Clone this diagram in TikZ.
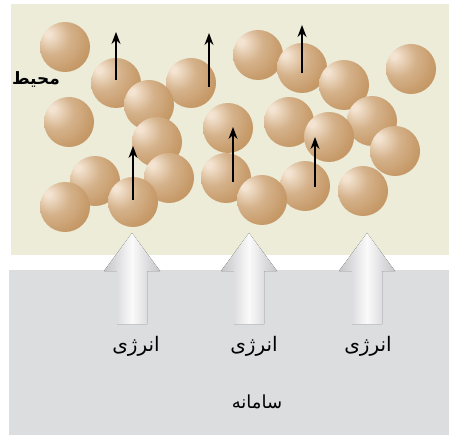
\documentclass[tikz,border=0pt]{standalone}
\usepackage{fontspec}
\newfontfamily\arabicfont[Script=Arabic]{DejaVu Sans}
\TeXXeTstate=1
\usetikzlibrary{arrows.meta}

\definecolor{airbg}{HTML}{EDECD9}
\definecolor{bodybg}{HTML}{DCDDDF}
\definecolor{grainlo}{HTML}{C59866}
\definecolor{grainhi}{HTML}{F3E3D0}
\definecolor{heatedge}{HTML}{C4C4C8}

% tan particle, lit from the upper left
\pgfdeclareradialshading{grainshade}{\pgfpoint{-18bp}{14bp}}{%
  color(0bp)=(grainhi); color(3bp)=(grainhi);
  color(18bp)=(grainlo!65!grainhi); color(34bp)=(grainlo);
  color(72bp)=(grainlo!92!black)}

\begin{document}
\begin{tikzpicture}[x=1pt,y=-1pt]
    \tikzstyle{grain}=[circle,inner sep=0pt,minimum size=50pt,shading=grainshade]
    \tikzstyle{motion}=[draw,line width=1.3pt,-{Stealth[length=12pt,width=9pt]}]
    \tikzstyle{heat}=[left color=heatedge,right color=heatedge,middle color=white!92!heatedge]
    \tikzstyle{word}=[text=black,font=\arabicfont\fontsize{20}{24}\selectfont]

    \useasboundingbox (0,0) rectangle (449,435);
    \fill[airbg] (11,4) rectangle (449,255);
    \fill[bodybg] (9,270) rectangle (449,435);

    % particles, back to front
    \node[grain] (p1) at (65,47) {};
    \node[grain] (p2) at (258,55) {};
    \node[grain] (p3) at (302,68) {};
    \node[grain] (p4) at (411,69) {};
    \node[grain] (p5) at (116,83) {};
    \node[grain] (p6) at (191,83) {};
    \node[grain] (p7) at (344,85) {};
    \node[grain] (p8) at (149,105) {};
    \node[grain] (p9) at (69,122) {};
    \node[grain] (p10) at (289,122) {};
    \node[grain] (p11) at (372,121) {};
    \node[grain] (p12) at (228,128) {};
    \node[grain] (p13) at (329,137) {};
    \node[grain] (p14) at (157,142) {};
    \node[grain] (p15) at (395,151) {};
    \node[grain] (p16) at (226,178) {};
    \node[grain] (p17) at (169,178) {};
    \node[grain] (p18) at (95,181) {};
    \node[grain] (p19) at (305,186) {};
    \node[grain] (p20) at (363,191) {};
    \node[grain] (p21) at (262,200) {};
    \node[grain] (p22) at (133,202) {};
    \node[grain] (p23) at (65,207) {};

    % velocity arrows
    \coordinate (v1a) at (116,80);  \coordinate (v1b) at (116,32);
    \coordinate (v2a) at (209,87);  \coordinate (v2b) at (209,33);
    \coordinate (v3a) at (133,200); \coordinate (v3b) at (133,146);
    \coordinate (v4a) at (302,73);  \coordinate (v4b) at (302,25);
    \coordinate (v5a) at (233,182); \coordinate (v5b) at (233,127);
    \coordinate (v6a) at (315,187); \coordinate (v6b) at (315,137);
    \foreach \i in {1,...,6}
        \path[motion] (v\i a) -- (v\i b);

    % energy flowing up into the surroundings
    \foreach \cx in {132,249,367}
        \fill[heat] (\cx-15,324) -- (\cx-15,271) -- (\cx-28,271) -- (\cx,233)
            -- (\cx+28,271) -- (\cx+15,271) -- (\cx+15,324) -- cycle;

    \node[word] (e1) at (136,346) {\beginR انرژی\endR};
    \node[word] (e2) at (254,346) {\beginR انرژی\endR};
    \node[word] (e3) at (368,346) {\beginR انرژی\endR};
    \node[word,font=\arabicfont\fontsize{18}{22}\selectfont] (body) at (257,402) {\beginR سامانه\endR};
    \node[word,font=\arabicfont\bfseries\fontsize{17}{20}\selectfont] (air) at (36,79) {\beginR محیط\endR};
\end{tikzpicture}
\end{document}
